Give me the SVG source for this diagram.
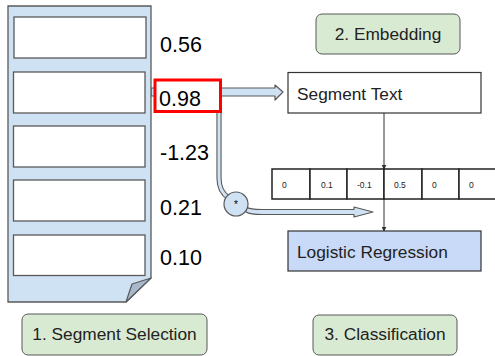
<svg xmlns="http://www.w3.org/2000/svg" width="495" height="356" viewBox="0 0 495 356">
<style>
text{font-family:"Liberation Sans",Arial,sans-serif;fill:#000}
.seg{fill:#fff;stroke:#595959;stroke-width:1.3}
.num{font-size:21.5px}
.lbl{fill:#d9ead3;stroke:#595959;stroke-width:1}
.lt{font-size:17.3px;text-anchor:middle;fill:#222}
.box{stroke:#333;stroke-width:1.2}
.bt{font-size:17.3px;fill:#222}
.cell{fill:#fff;stroke:#222;stroke-width:1.5}
.ct{font-size:8.5px;fill:#222}
.fat{fill:#cfe2f3;stroke:#595959;stroke-width:1.2;stroke-linejoin:round}
.thin{stroke:#333;stroke-width:1;fill:none}
</style>
<defs>
<marker id="ah" viewBox="0 0 6 6" refX="5" refY="3" markerWidth="5" markerHeight="5" orient="auto" markerUnits="userSpaceOnUse">
<path d="M0,0 L6,3 L0,6 Z" fill="#333"/>
</marker>
</defs>

<g id="connectors">
<path class="fat" d="M151,88 L275,88 L275,85 L283,92 L275,100 L275,96 L151,96 Z"/>
<path d="M219,112 L219,178 Q219,192 229,198" fill="none" stroke="#595959" stroke-width="5.2"/>
<path d="M219,112 L219,178 Q219,192 229,198" fill="none" stroke="#cfe2f3" stroke-width="3"/>
<path class="fat" d="M246,207 Q250,209.5 262,209.5 L354,209.5 L354,207 L373,212 L354,217 L354,214.5 L262,214.5 Q250,214.5 246,212 Z"/>
<line class="thin" x1="384" y1="113" x2="384" y2="169" marker-end="url(#ah)"/>
<line class="thin" x1="384" y1="199" x2="384" y2="231" marker-end="url(#ah)"/>
</g>

<g id="document">
<path d="M8,6 L151,6 L151,278 L126,302 L8,302 Z" fill="#cfe2f3" stroke="#595959" stroke-width="1.3"/>
<path d="M151,278 L132,284 L126,302 Z" fill="#a9b9cc" stroke="#595959" stroke-width="1.2" stroke-linejoin="round"/>
<rect class="seg" x="14" y="17" width="132" height="41"/>
<rect class="seg" x="13.5" y="72" width="131.5" height="41"/>
<rect class="seg" x="13.5" y="126" width="131.5" height="41"/>
<rect class="seg" x="13.5" y="180" width="131.5" height="41"/>
<rect class="seg" x="13.5" y="235" width="131.5" height="40.5"/>
</g>

<g id="scores">
<text class="num" x="160" y="52">0.56</text>
<rect x="155" y="80" width="65.5" height="31.5" fill="#fff" stroke="#f00" stroke-width="3"/>
<text class="num" x="159" y="105.5">0.98</text>
<text class="num" x="160" y="160">-1.23</text>
<text class="num" x="160" y="215">0.21</text>
<text class="num" x="160" y="265">0.10</text>
</g>

<g id="multiply">
<circle cx="236" cy="204" r="12" fill="#cfe2f3" stroke="#595959" stroke-width="1.2"/>
<text x="236" y="208" font-size="10" text-anchor="middle">*</text>
</g>

<g id="segment-text">
<rect class="box" x="288" y="72.5" width="193" height="40.5" fill="#fff"/>
<text class="bt" x="297" y="99.5">Segment Text</text>
</g>

<g id="vector">
<rect class="cell" x="272" y="169" width="38" height="30"/>
<rect class="cell" x="310" y="169" width="37" height="30"/>
<rect class="cell" x="347" y="169" width="37" height="30"/>
<rect class="cell" x="384" y="169" width="38" height="30"/>
<rect class="cell" x="422" y="169" width="37" height="30"/>
<rect class="cell" x="459" y="169" width="38" height="30"/>
<text class="ct" x="282" y="188">0</text>
<text class="ct" x="321" y="188">0.1</text>
<text class="ct" x="357" y="188">-0.1</text>
<text class="ct" x="394" y="188">0.5</text>
<text class="ct" x="432" y="188">0</text>
<text class="ct" x="469" y="188">0</text>
</g>

<g id="logistic-regression">
<rect class="box" x="288" y="231" width="193" height="40" fill="#c9daf8"/>
<text class="bt" x="297" y="257.5">Logistic Regression</text>
</g>

<g id="label-embedding">
<rect class="lbl" x="316" y="14" width="144" height="40" rx="6"/>
<text class="lt" x="388" y="39.5">2. Embedding</text>
</g>

<g id="label-selection">
<rect class="lbl" x="22" y="314" width="185" height="41" rx="6"/>
<text class="lt" x="114.5" y="339.5">1. Segment Selection</text>
</g>

<g id="label-classification">
<rect class="lbl" x="313" y="315" width="144" height="40" rx="6"/>
<text class="lt" x="385" y="340">3. Classification</text>
</g>
</svg>
